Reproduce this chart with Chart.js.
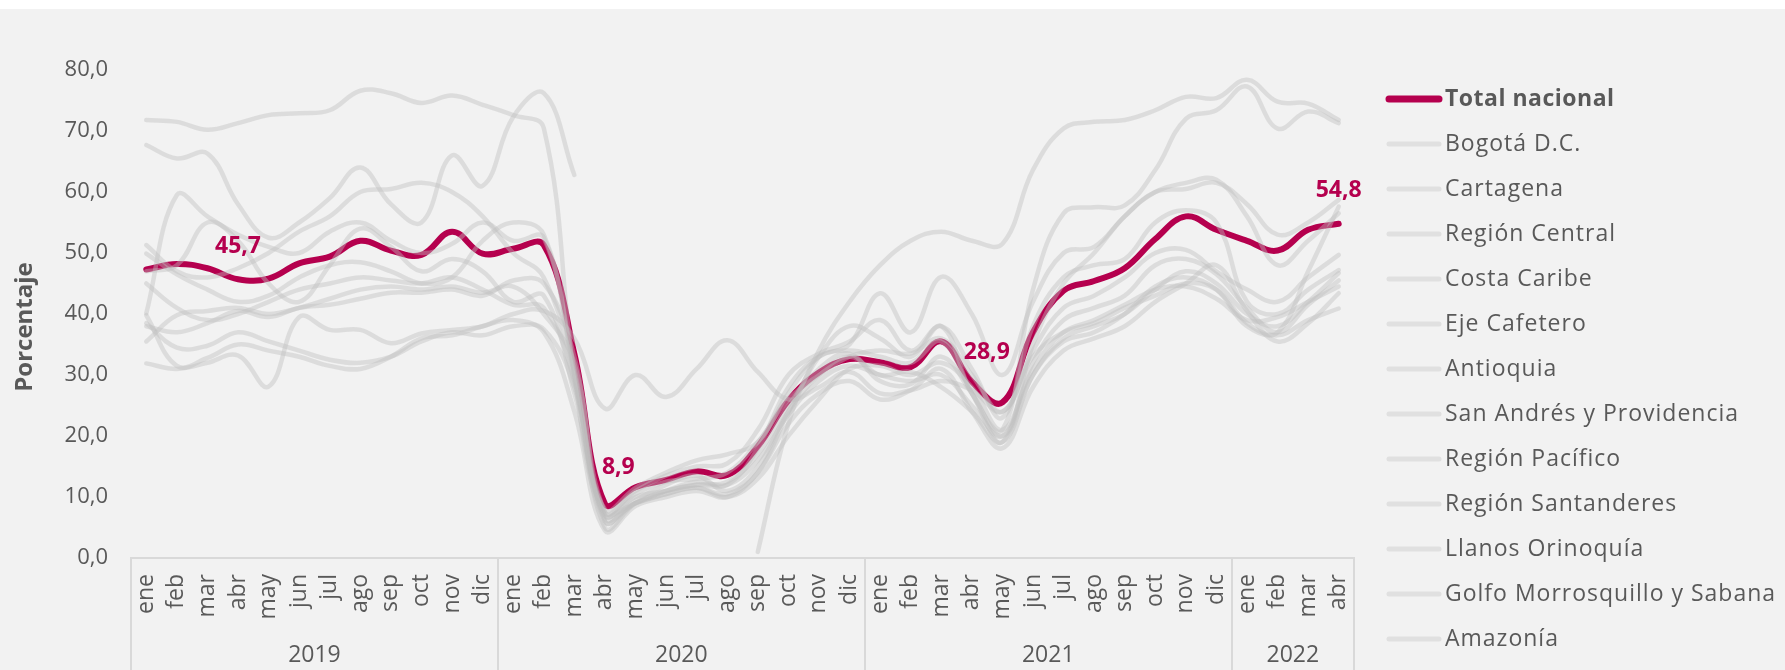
<!DOCTYPE html>
<html lang="es">
<head>
<meta charset="utf-8">
<title>Porcentaje de ocupación</title>
<script src="https://cdn.jsdelivr.net/npm/chart.js@4.4.1/dist/chart.umd.min.js"></script>
<style>
  html, body { margin: 0; padding: 0; background: #ffffff; }
  canvas { display: block; }
</style>
</head>
<body>
<canvas id="ocupacion" width="1785" height="670"></canvas>
<script>
// meses y años del eje x
const meses = ['ene', 'feb', 'mar', 'abr', 'may', 'jun', 'jul', 'ago', 'sep', 'oct', 'nov', 'dic'];
const anios = ['2019', '2020', '2021', '2022'];
const mesesPorAnio = [12, 12, 12, 4];
const etiquetasMes = meses.concat(meses, meses, meses.slice(0, 4));

// serie principal
const totalNacional = [
  47.3, 48.2, 47.5, 45.7, 45.8, 48.3, 49.4, 52.0, 50.4, 49.7, 53.5, 49.9,
  50.7, 51.3, 33.5, 8.9, 11.6, 12.8, 14.2, 13.6, 18.3, 25.8, 30.4, 32.6,
  32.1, 31.3, 35.5, 28.9, 25.5, 37.0, 43.8, 45.4, 47.5, 52.3, 56.0, 53.8,
  52.0, 50.4, 53.8, 54.8
];
// meses con etiqueta de valor
const etiquetasTotal = [3, 15, 27, 39];

// regiones
const bogota = [
  51.3, 47.0, 46.0, 47.5, 50.0, 53.5, 56.0, 60.0, 60.5, 61.5, 60.0, 56.0,
  50.0, 46.0, 30.0, 5.0, 9.0, 11.0, 12.0, 12.0, 18.0, 28.0, 33.0, 34.0,
  33.0, 32.0, 35.5, 27.0, 19.0, 35.0, 45.0, 50.0, 56.0, 60.0, 61.5, 62.0,
  56.0, 48.0, 52.0, 56.5
];
const cartagena = [
  71.8, 71.5, 70.2, 71.3, 72.6, 72.9, 73.4, 76.6, 76.2, 74.6, 75.8, 74.3,
  72.6, 70.5, 30.0, 6.0, 9.0, 10.5, 11.5, 10.5, 14.0, 24.0, 33.0, 38.0,
  36.0, 33.0, 38.0, 27.0, 21.0, 44.0, 56.5, 57.5, 57.8, 63.6, 72.0, 73.4,
  77.3, 70.4, 73.2, 71.3
];
const regionCentral = [
  38.5, 34.5, 34.8, 37.0, 35.5, 34.0, 32.5, 32.0, 33.0, 35.5, 37.0, 36.5,
  38.0, 37.5, 28.0, 7.0, 10.0, 11.0, 12.0, 12.5, 17.0, 25.0, 31.0, 33.5,
  29.0, 28.5, 33.0, 27.0, 20.0, 30.0, 35.5, 37.0, 40.0, 44.5, 46.0, 44.0,
  38.0, 37.0, 47.0, 57.6
];
const costaCaribe = [
  49.9, 46.5, 44.0, 42.0, 43.0, 46.0, 48.0, 48.5, 47.0, 45.0, 46.0, 52.0,
  55.0, 53.0, 31.0, 7.5, 11.0, 13.5, 15.0, 15.5, 21.0, 30.0, 33.5, 35.5,
  39.0, 34.0, 38.0, 31.0, 23.0, 38.0, 46.0, 48.0, 49.0, 55.0, 57.0, 55.0,
  42.0, 40.0, 44.0, 47.2
];
const ejeCafetero = [
  39.8, 31.5, 32.8, 35.0, 34.0, 33.0, 31.5, 31.0, 33.0, 36.0, 36.5, 38.0,
  39.0, 37.0, 24.0, 4.5, 8.5, 10.0, 11.0, 10.0, 14.0, 22.0, 27.0, 29.0,
  26.0, 27.5, 31.0, 24.0, 18.0, 28.0, 34.0, 36.0, 38.0, 42.0, 45.0, 48.0,
  40.5, 35.5, 38.5, 43.4
];
const antioquia = [
  45.0, 41.0, 39.0, 40.0, 42.0, 44.0, 45.0, 46.0, 45.5, 45.0, 46.0, 44.0,
  41.5, 41.0, 29.0, 6.5, 9.0, 11.0, 12.5, 12.0, 16.0, 23.5, 29.0, 31.5,
  30.0, 29.0, 30.0, 25.0, 20.0, 32.0, 39.0, 41.0, 43.0, 48.0, 49.0, 46.5,
  41.0, 37.0, 41.5, 45.5
];
const sanAndres = [
  67.7, 65.5, 66.3, 58.0, 52.5, 55.0, 59.0, 64.0, 58.0, 55.0, 66.0, 61.0,
  72.3, 76.2, 62.8, null, null, null, null, null, 1.0, 22.0, 34.0, 42.0,
  48.0, 52.0, 53.5, 52.0, 51.5, 63.6, 70.4, 71.5, 71.8, 73.4, 75.6, 75.4,
  78.4, 74.8, 74.5, 71.8
];
const pacifico = [
  40.1, 59.5, 56.0, 53.0, 51.0, 50.0, 53.5, 55.0, 52.0, 50.0, 51.5, 55.0,
  52.0, 52.5, 30.0, 7.0, 10.5, 12.5, 13.0, 14.0, 19.0, 26.0, 30.0, 33.0,
  34.0, 33.5, 36.0, 30.0, 24.0, 34.0, 41.0, 43.0, 46.0, 50.0, 50.5, 47.0,
  44.0, 42.0, 46.0, 49.7
];
const santanderes = [
  35.5, 39.8, 40.5, 41.0, 40.0, 41.0, 42.5, 44.0, 44.5, 44.0, 44.5, 43.5,
  44.5, 40.0, 32.0, 6.0, 9.5, 12.0, 13.5, 11.0, 15.0, 24.0, 30.0, 33.0,
  30.0, 30.5, 28.0, 24.0, 19.0, 30.0, 36.0, 38.0, 40.0, 44.0, 47.0, 45.0,
  40.0, 38.0, 42.0, 46.7
];
const llanos = [
  31.9, 31.0, 32.0, 33.2, 28.1, 39.5, 37.4, 37.4, 35.2, 36.8, 37.4, 38.0,
  40.0, 40.5, 36.0, 24.5, 30.0, 26.4, 31.0, 35.7, 30.5, 26.0, 28.0, 30.5,
  27.0, 27.5, 29.0, 27.5, 24.0, 33.0, 37.0, 38.5, 41.0, 43.0, 45.0, 44.0,
  38.5, 36.5, 39.0, 40.9
];
const golfo = [
  47.0, 48.0, 55.0, 52.0, 45.0, 42.0, 48.0, 54.0, 51.0, 47.0, 49.0, 47.0,
  42.0, 43.0, 27.0, 8.0, 11.5, 14.0, 16.0, 17.0, 19.0, 27.0, 33.0, 35.0,
  43.4, 37.0, 46.1, 40.0, 30.0, 42.0, 50.0, 51.0, 56.0, 60.0, 60.5, 61.5,
  58.0, 53.0, 55.0, 58.7
];
const amazonia = [
  38.0, 37.0, 38.5, 40.5, 39.5, 41.0, 41.5, 42.5, 43.5, 43.5, 44.0, 43.0,
  45.5, 45.0, 33.0, 7.5, 9.0, 10.5, 11.5, 10.0, 13.0, 20.0, 26.0, 31.0,
  31.5, 30.0, 32.0, 28.0, 21.0, 31.0, 37.0, 39.0, 41.5, 44.0, 44.5, 42.5,
  39.0, 39.5, 42.0, 44.5
];

const nombresRegion = [
  'Bogotá D.C.', 'Cartagena', 'Región Central', 'Costa Caribe', 'Eje Cafetero',
  'Antioquia', 'San Andrés y Providencia', 'Región Pacífico', 'Región Santanderes',
  'Llanos Orinoquía', 'Golfo Morrosquillo y Sabana', 'Amazonía'
];
const seriesRegion = [
  bogota, cartagena, regionCentral, costaCaribe, ejeCafetero, antioquia,
  sanAndres, pacifico, santanderes, llanos, golfo, amazonia
];

const textoGris = '#595959';
const vino = '#b5004e';
const grisLinea = 'rgba(190, 190, 190, 0.42)';
const fuente = '"Open Sans"';

const coma = (v) => v.toFixed(1).replace('.', ',');

// fondo gris con franja blanca arriba
const fondo = {
  id: 'fondo',
  beforeDraw(chart) {
    const { ctx, width, height } = chart;
    ctx.save();
    ctx.fillStyle = '#ffffff';
    ctx.fillRect(0, 0, width, height);
    ctx.fillStyle = '#f2f2f2';
    ctx.fillRect(0, 9, width, height - 9);
    ctx.restore();
  }
};

// segundo nivel del eje x: años y divisiones
const ejeAnios = {
  id: 'ejeAnios',
  afterDraw(chart) {
    const x = chart.scales.x;
    const { ctx, chartArea } = chart;
    const mitad = (x.getPixelForValue(1) - x.getPixelForValue(0)) / 2;
    const cortes = [x.getPixelForValue(0) - mitad];
    ctx.save();
    ctx.font = '23px ' + fuente;
    ctx.fillStyle = textoGris;
    ctx.textAlign = 'center';
    ctx.textBaseline = 'middle';
    let inicio = 0;
    anios.forEach((anio, k) => {
      const fin = inicio + mesesPorAnio[k] - 1;
      const x0 = x.getPixelForValue(inicio) - mitad;
      const x1 = x.getPixelForValue(fin) + mitad;
      ctx.fillText(anio, (x0 + x1) / 2, 655);
      cortes.push(x1);
      inicio = fin + 1;
    });
    ctx.strokeStyle = '#d9d9d9';
    ctx.lineWidth = 2;
    cortes.forEach((px) => {
      ctx.beginPath();
      ctx.moveTo(Math.round(px), chartArea.bottom);
      ctx.lineTo(Math.round(px), chart.height);
      ctx.stroke();
    });
    ctx.restore();
  }
};

// título vertical del eje y
const tituloY = {
  id: 'tituloY',
  afterDraw(chart) {
    const { ctx } = chart;
    ctx.save();
    ctx.translate(25, 327);
    ctx.rotate(-Math.PI / 2);
    ctx.font = 'bold 24px ' + fuente;
    ctx.fillStyle = textoGris;
    ctx.textAlign = 'center';
    ctx.textBaseline = 'middle';
    ctx.fillText('Porcentaje', 0, 0);
    ctx.restore();
  }
};

// etiquetas de valor sobre la serie nacional
const etiquetasValor = {
  id: 'etiquetasValor',
  afterDatasetsDraw(chart) {
    const meta = chart.getDatasetMeta(0);
    const ajuste = {
      3: ['center', 0, -33],
      15: ['left', -3, -36],
      27: ['left', -8, -29],
      39: ['center', 0, -33]
    };
    const { ctx } = chart;
    ctx.save();
    ctx.font = 'bold 23px ' + fuente;
    ctx.fillStyle = vino;
    ctx.textBaseline = 'middle';
    etiquetasTotal.forEach((i) => {
      const p = meta.data[i];
      const [alinear, dx, dy] = ajuste[i];
      ctx.textAlign = alinear;
      ctx.fillText(coma(totalNacional[i]), p.x + dx, p.y + dy);
    });
    ctx.restore();
  }
};

// leyenda a la derecha
const leyenda = {
  id: 'leyenda',
  afterDraw(chart) {
    const { ctx } = chart;
    ctx.save();
    ctx.textBaseline = 'middle';
    ctx.textAlign = 'left';
    chart.data.datasets.forEach((ds, k) => {
      const y = 99 + k * 45;
      ctx.strokeStyle = k === 0 ? ds.borderColor : '#e0e0e0';
      ctx.lineWidth = k === 0 ? 7 : 5;
      ctx.lineCap = 'round';
      ctx.beginPath();
      ctx.moveTo(1389, y);
      ctx.lineTo(1439, y);
      ctx.stroke();
      ctx.font = (k === 0 ? 'bold ' : '') + '23px ' + fuente;
      ctx.letterSpacing = k === 0 ? '0.5px' : '1px';
      ctx.fillStyle = textoGris;
      ctx.fillText(ds.label, 1445, y);
    });
    ctx.restore();
  }
};

const datasets = [{
  label: 'Total nacional',
  data: totalNacional,
  borderColor: vino,
  borderWidth: 6,
  order: 1
}].concat(seriesRegion.map((serie, k) => ({
  label: nombresRegion[k],
  data: serie,
  borderColor: grisLinea,
  borderWidth: 4.5,
  order: 0
})));

new Chart(document.getElementById('ocupacion'), {
  type: 'line',
  data: { labels: etiquetasMes, datasets },
  options: {
    responsive: false,
    animation: false,
    layout: { padding: { top: 70, right: 431, bottom: 0, left: 0 } },
    elements: {
      point: { radius: 0 },
      line: { tension: 0.4, borderCapStyle: 'round', borderJoinStyle: 'round', fill: false }
    },
    plugins: {
      legend: { display: false },
      tooltip: { enabled: false }
    },
    scales: {
      x: {
        offset: true,
        grid: { display: false, drawTicks: false },
        border: { display: true, color: '#d9d9d9', width: 2 },
        ticks: {
          autoSkip: false,
          minRotation: 90,
          maxRotation: 90,
          padding: 16,
          color: textoGris,
          font: { family: 'Open Sans', size: 23 }
        },
        afterFit(scale) { scale.height = 112; }
      },
      y: {
        min: 0,
        max: 80,
        grid: { display: false, drawTicks: false },
        border: { display: false },
        ticks: {
          stepSize: 10,
          padding: 23,
          color: textoGris,
          font: { family: 'Open Sans', size: 22 },
          callback: (v) => coma(v)
        },
        afterFit(scale) { scale.width = 131; }
      }
    }
  },
  plugins: [fondo, ejeAnios, tituloY, etiquetasValor, leyenda]
});
</script>
</body>
</html>
